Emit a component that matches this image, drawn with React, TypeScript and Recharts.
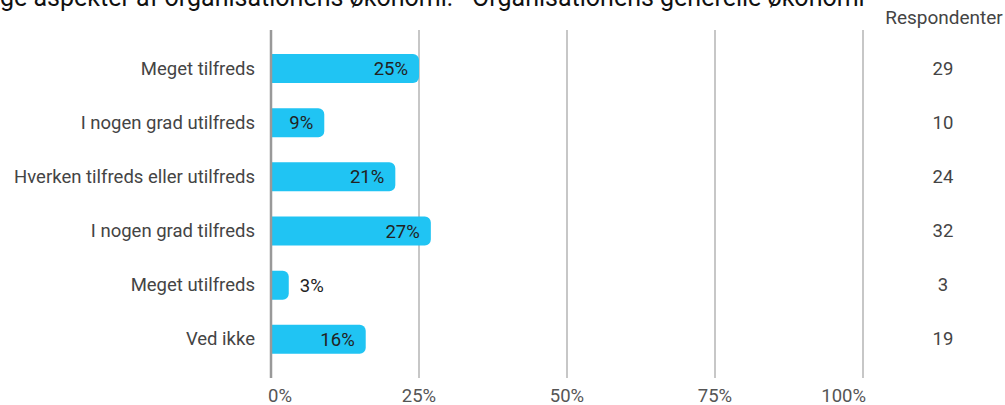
import React from "react";
import { BarChart, Bar, XAxis, YAxis, CartesianGrid, LabelList, ReferenceLine } from "recharts";

const categories = [
  "Meget tilfreds",
  "I nogen grad utilfreds",
  "Hverken tilfreds eller utilfreds",
  "I nogen grad tilfreds",
  "Meget utilfreds",
  "Ved ikke",
];
const percentages = [25, 9, 21, 27, 3, 16];
const respondents = [29, 10, 24, 32, 3, 19];
const xTicks = [0, 25, 50, 75, 100];
const titleText = "ge aspekter af organisationens økonomi: - Organisationens generelle økonomi";
const respHeader = "Respondenter";

const data = categories.map((c, i) => ({
  category: c,
  pct: percentages[i],
  respondents: respondents[i],
}));

const W = 1005;
const H = 405;
const FONT = "Roboto, 'Noto Sans', sans-serif";
const FS = 18.5;

const XTick = (props: any) => {
  const { x, y, payload, index } = props;
  const anchor = index === 0 ? "start" : index === xTicks.length - 1 ? "end" : "middle";
  const dx = index === 0 ? -3 : index === xTicks.length - 1 ? 3 : 0;
  return (
    <text x={x + dx} y={y} dy={11} textAnchor={anchor} fill="#555" fontSize={FS} fontFamily={FONT}>
      {payload.value}%
    </text>
  );
};

const YTick = (props: any) => {
  const { x, y, payload } = props;
  return (
    <text x={x} y={y} dy={6.5} textAnchor="end" fill="#444" fontSize={FS} fontFamily={FONT}>
      {payload.value}
    </text>
  );
};

const PctLabel = (props: any) => {
  const { x, y, width, height, value } = props;
  const inside = width > 40;
  const tx = inside ? x + width - 11 : x + width + 11;
  return (
    <text
      x={tx}
      y={y + height / 2}
      dy={6.5}
      textAnchor={inside ? "end" : "start"}
      fill="#222"
      fontSize={FS}
      fontFamily={FONT}
    >
      {value}%
    </text>
  );
};

const RespLabel = (props: any) => {
  const { y, height, value } = props;
  return (
    <text x={943} y={y + height / 2} dy={6} textAnchor="middle" fill="#444" fontSize={FS} fontFamily={FONT}>
      {value}
    </text>
  );
};

export default function App() {
  return (
    <div style={{ position: "fixed", left: 0, top: 0, width: W, height: H, background: "#fff", overflow: "hidden" }}>
      <BarChart
        width={W}
        height={H}
        data={data}
        layout="vertical"
        margin={{ top: 30, right: 142, bottom: 0, left: 0 }}
      >
        <CartesianGrid horizontal={false} vertical stroke="#b5b5b5" strokeWidth={1.5} />
        <XAxis
          type="number"
          dataKey="pct"
          domain={[0, 100]}
          ticks={xTicks}
          axisLine={false}
          tickLine={false}
          tickSize={0}
          tickMargin={13}
          tick={<XTick />}
          height={27}
        />
        <YAxis
          type="category"
          dataKey="category"
          width={271}
          axisLine={false}
          tickLine={false}
          tickSize={0}
          tickMargin={16}
          tick={<YTick />}
          padding={{ top: 11, bottom: 12 }}
        />
        <ReferenceLine x={0} stroke="#999" strokeWidth={2.5} />
        <Bar dataKey="pct" fill="#20C4F3" barSize={29} radius={[0, 6, 6, 0]} isAnimationActive={false}>
          <LabelList dataKey="pct" content={<PctLabel />} />
          <LabelList dataKey="respondents" content={<RespLabel />} />
        </Bar>
      </BarChart>
      <svg width={W} height={H} style={{ position: "absolute", left: 0, top: 0, pointerEvents: "none" }}>
        <text x={0} y={6} fill="#111" fontSize={25} fontFamily={FONT}>
          {titleText}
        </text>
        <text x={944} y={24} textAnchor="middle" fill="#444" fontSize={19} fontFamily={FONT}>
          {respHeader}
        </text>
      </svg>
    </div>
  );
}
